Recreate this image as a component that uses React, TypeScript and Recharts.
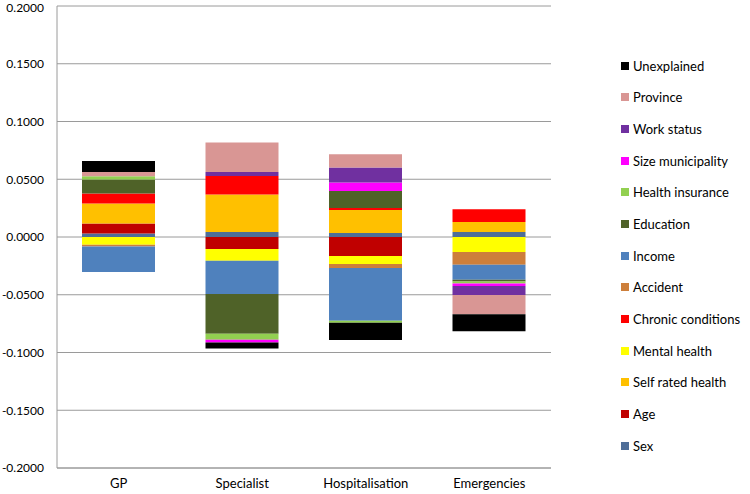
import React from 'react';
import { BarChart, Bar, XAxis, YAxis, CartesianGrid } from 'recharts';

// categories (x axis)
const categories = ['GP', 'Specialist', 'Hospitalisation', 'Emergencies'];

// contributions per factor, one value per category
const sex = [0.003, 0.0043, 0.0035, 0.0043];
const age = [0.0087, -0.0104, -0.0165, 0];
const selfRatedHealth = [0.0173, 0.0324, 0.0199, 0.0087];
const mentalHealth = [-0.0067, -0.0101, -0.0069, -0.013];
const chronicConditions = [0.0087, 0.0161, 0.0017, 0.011];
const accident = [-0.0015, 0, -0.0035, -0.011];
const income = [-0.0222, -0.0288, -0.0456, -0.013];
const education = [0.0121, -0.0344, 0.0147, -0.0015];
const healthInsurance = [0.0029, -0.0052, -0.0017, -0.0017];
const sizeMunicipality = [0, -0.0025, 0.0073, -0.0023];
const workStatus = [0, 0.0035, 0.013, -0.0078];
const province = [0.0035, 0.0255, 0.0115, -0.0165];
const unexplained = [0.0095, -0.0052, -0.015, -0.0147];

const yTicks = [-0.2, -0.15, -0.1, -0.05, 0, 0.05, 0.1, 0.15, 0.2];

// stacking order, bottom (nearest zero) first
const series = [
  { key: 'Sex', values: sex, color: '#4F6E98' },
  { key: 'Age', values: age, color: '#C00000' },
  { key: 'Self rated health', values: selfRatedHealth, color: '#FFC000' },
  { key: 'Mental health', values: mentalHealth, color: '#FFFF00' },
  { key: 'Chronic conditions', values: chronicConditions, color: '#FF0000' },
  { key: 'Accident', values: accident, color: '#CD7F3B' },
  { key: 'Income', values: income, color: '#4F81BD' },
  { key: 'Education', values: education, color: '#4F6228' },
  { key: 'Health insurance', values: healthInsurance, color: '#92D050' },
  { key: 'Size municipality', values: sizeMunicipality, color: '#FF00FF' },
  { key: 'Work status', values: workStatus, color: '#7030A0' },
  { key: 'Province', values: province, color: '#D99694' },
  { key: 'Unexplained', values: unexplained, color: '#000000' },
];

const data = categories.map((name, i) => {
  const row: Record<string, string | number> = { name };
  series.forEach(s => { row[s.key] = s.values[i]; });
  return row;
});

const FONT = 'Lato, "Open Sans", sans-serif';

// legend drawn as plain html on the right, reversed like Excel does
const LegendList = () => (
  <div style={{ position: 'absolute', left: 621, top: 50, fontFamily: FONT, fontSize: 13, color: '#000' }}>
    {[...series].reverse().map(s => (
      <div key={s.key} style={{ height: 31.67, display: 'flex', alignItems: 'center', whiteSpace: 'nowrap' }}>
        <span style={{ width: 8, height: 8, background: s.color, marginRight: 4, display: 'inline-block' }} />
        <span>{s.key}</span>
      </div>
    ))}
  </div>
);

export default function App() {
  return (
    <div style={{ position: 'absolute', left: 0, top: 0, width: 750, height: 494, background: '#fff' }}>
      <BarChart
        width={750}
        height={494}
        data={data}
        stackOffset="sign"
        barSize={73}
        margin={{ top: 6, right: 199, bottom: 0, left: 0 }}
      >
        <CartesianGrid vertical={false} stroke="#9a9a9a" />
        <XAxis
          dataKey="name"
          height={26}
          tickLine={false}
          axisLine={{ stroke: '#9a9a9a' }}
          tick={{ fill: '#000', fontSize: 13, fontFamily: FONT, dy: 3 }}
          interval={0}
        />
        <YAxis
          type="number"
          width={57}
          domain={[-0.2, 0.2]}
          ticks={yTicks}
          allowDataOverflow
          tickLine={false}
          tickMargin={7}
          axisLine={{ stroke: '#9a9a9a' }}
          tick={{ fill: '#000', fontSize: 12, fontFamily: FONT }}
          tickFormatter={(v: number) => v.toFixed(4)}
        />
        {series.map(s => (
          <Bar key={s.key} dataKey={s.key} stackId="a" fill={s.color} isAnimationActive={false} />
        ))}
      </BarChart>
      <LegendList />
    </div>
  );
}
